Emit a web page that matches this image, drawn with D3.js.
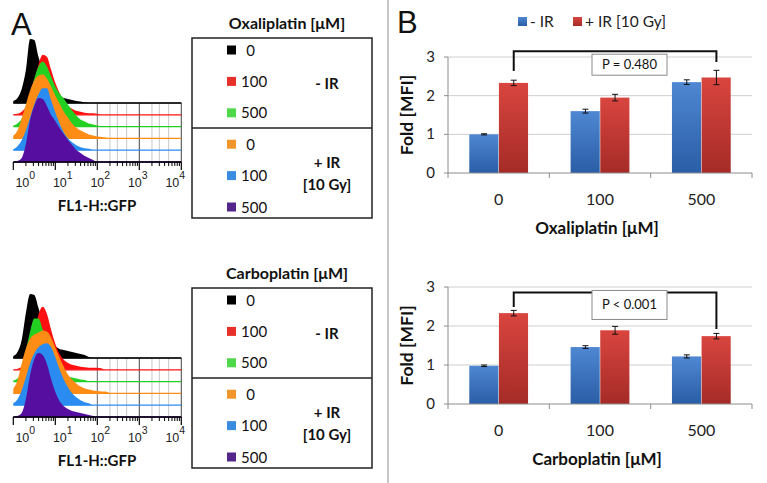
<!DOCTYPE html>
<html><head><meta charset="utf-8">
<script src="https://cdn.jsdelivr.net/npm/d3@7"></script>
<style>body{margin:0;background:#fff;} svg{display:block;}</style>
</head><body>
<svg id="chart" width="767" height="483"></svg>
<script>
// ---------- DATA ----------
// histogram sample positions (decades of FL1-H::GFP, log10)
const histLog = [0,0.1,0.2,0.3,0.4,0.5,0.6,0.7,0.8,0.9,1.0,1.1,1.2,1.3,1.4,1.5,1.6,1.7,1.8,1.9,2.0,2.1,2.2,2.3];
// Oxaliplatin overlays (relative event counts)
const oxaNoIR0   = [2,5,14,33,64,63,46,34,24,16,11,7,5,4,3,2,1.5,0.5,0,0,0,0,0,0];
const oxaNoIR100 = [0.5,1,3,8,18,33,50,60,58,45,32,22,14,9,6,4,3,2,1.5,1.5,1,0,0,0];
const oxaNoIR500 = [1,3,8,18,32,48,60,65,60,50,40,33,28,22,16,11,7,5,3,2,1,0,0,0];
const oxaIR0     = [3,8,20,34,48,58,63,64,60,52,43,35,27,21,15,11,8,6,4,3,2,1.5,1,0];
const oxaIR100   = [1,4,10,20,33,46,56,62,62,50,38,27,18,12,8,5,3,2,1.5,0,0,0,0,0];
const oxaIR500   = [0,1,4,18,42,56,64,63,56,47,41,34,28,22,17,12,9,6,4,2,0,0,0,0];
// Carboplatin overlays
const carNoIR0   = [2,6,18,45,64,63,50,36,25,17,12,9,8,7,6,5,4,3,1,0,0,0,0,0];
const carNoIR100 = [0,1,3,8,18,35,55,63,56,40,26,16,10,7,5,4,3,2.5,2,2,2,1.5,0,0];
const carNoIR500 = [1,3,10,30,50,63,63,52,40,28,18,12,8,5,4,3,2,1.5,0,0,0,0,0,0];
const carIR0     = [5,13,30,45,55,59,61,63,62,56,46,36,27,19,14,10,7,5,4,3,2.5,2,2,0];
const carIR100   = [2,6,15,28,42,52,58,61,62,58,48,36,26,18,12,8,5,3,2,0,0,0,0,0];
const carIR500   = [0,1,4,18,42,58,64,62,53,38,25,16,11,8,6,5,4,3,2,1,0,0,0,0];

const histColors = ["#000000","#ff1010","#22d022","#ff8c14","#2a8cf0","#560ea0"];
const legendColors = ["#000000","#e8302a","#4ed84a","#f0962a","#3a8ce0","#54268c"];
const legendDoses = ["0","100","500","0","100","500"];
const decadeTicks = [0,1,2,3,4];

// Panel B
const doses = ["0","100","500"];
const oxaMinusIR = [1.00, 1.60, 2.35];
const oxaMinusErr = [0.015, 0.05, 0.06];
const oxaPlusIR = [2.33, 1.95, 2.47];
const oxaPlusErr = [0.07, 0.085, 0.185];
const carMinusIR = [0.98, 1.46, 1.22];
const carMinusErr = [0.02, 0.035, 0.04];
const carPlusIR = [2.33, 1.89, 1.74];
const carPlusErr = [0.07, 0.10, 0.07];
const yTicks = [0,1,2,3];
const oxaBracket = [3.15, 2.64, 2.87];   // top, left leg end, right leg end
const carBracket = [2.86, 2.49, 1.92];

// ---------- DRAW ----------
const svg = d3.select("#chart");
const sans = "Lato, 'Open Sans', sans-serif";
const arial = "'Liberation Sans', Arial, sans-serif";

// separator
svg.append("line").attr("x1",388).attr("x2",388).attr("y1",0).attr("y2",483)
  .attr("stroke","#b4b4b4").attr("stroke-width",1.5);

// panel letters
svg.append("text").attr("x",11).attr("y",35).text("A")
  .attr("font-family",arial).attr("font-size",31).attr("fill","#111");
svg.append("text").attr("x",397).attr("y",33).text("B")
  .attr("font-family",arial).attr("font-size",31).attr("fill","#111");

// ---- histograms ----
const hx = d3.scaleLog().domain([1,1e4]).range([13.3,181.3]);
const hy = d3.scaleLinear().domain([0,65]).range([0,65]);
const labelX = d3.scaleLinear().domain([0,4]).range([hx(1)+12, hx(1e4)-6]);

function drawHist(top, sets){
  const g = svg.append("g");
  const step = 11.8, bottom = top + step*5;
  // grid 10^2..10^4
  const minor = [];
  for (let d=2; d<4; d++) [2,3,5].forEach(m=>minor.push(m*Math.pow(10,d)));
  g.selectAll(".mg").data(minor).enter().append("line")
    .attr("x1",d=>hx(d)).attr("x2",d=>hx(d)).attr("y1",top).attr("y2",bottom)
    .attr("stroke","#c8c8c8").attr("stroke-width",1);
  g.selectAll(".Mg").data([100,1000,10000]).enter().append("line")
    .attr("x1",d=>hx(d)).attr("x2",d=>hx(d)).attr("y1",top).attr("y2",bottom)
    .attr("stroke",(d,i)=>i==0?"#666":"#444").attr("stroke-width",1);
  g.append("line").attr("x1",hx(1)).attr("x2",hx(1e4)).attr("y1",top).attr("y2",top)
    .attr("stroke","#555").attr("stroke-width",1);
  sets.forEach((vals,i)=>{
    const base = top + i*step;
    const pts = histLog.map((l,j)=>[Math.pow(10,l), vals[j]]);
    const area = d3.area().x(d=>hx(d[0])).y0(base).y1(d=>base-hy(d[1])).curve(d3.curveMonotoneX);
    g.append("line").attr("x1",hx(1)).attr("x2",hx(1e4)).attr("y1",base).attr("y2",base)
      .attr("stroke",histColors[i]).attr("stroke-width",1.3);
    g.append("path").attr("d",area(pts)).attr("fill",histColors[i]);
  });
  // axis
  g.append("line").attr("x1",hx(1)).attr("x2",hx(1e4)).attr("y1",bottom).attr("y2",bottom)
    .attr("stroke","#000").attr("stroke-width",1.3);
  const mt = [];
  for (let d=0; d<4; d++) for (let m=2; m<10; m++) mt.push(m*Math.pow(10,d));
  g.selectAll(".mt").data(mt).enter().append("line")
    .attr("x1",d=>hx(d)).attr("x2",d=>hx(d)).attr("y1",bottom).attr("y2",bottom+4)
    .attr("stroke","#000").attr("stroke-width",1);
  g.selectAll(".Mt").data(decadeTicks).enter().append("line")
    .attr("x1",d=>hx(Math.pow(10,d))).attr("x2",d=>hx(Math.pow(10,d))).attr("y1",bottom).attr("y2",bottom+8)
    .attr("stroke","#000").attr("stroke-width",1.2);
  const lab = g.selectAll(".tl").data(decadeTicks).enter().append("text")
    .attr("x",d=>labelX(d)).attr("y",bottom+25).attr("text-anchor","middle")
    .attr("font-family",arial).attr("font-size",12.5).attr("fill","#222");
  lab.append("tspan").text("10");
  lab.append("tspan").attr("dy",-8).attr("font-size",10.5).text(d=>d);
  svg.append("text").attr("x",97).attr("y",bottom+49).attr("text-anchor","middle")
    .attr("font-family",sans).attr("font-weight","bold").attr("font-size",15).attr("fill","#111")
    .text("FL1-H::GFP");
}
drawHist(103,[oxaNoIR0,oxaNoIR100,oxaNoIR500,oxaIR0,oxaIR100,oxaIR500]);
drawHist(358,[carNoIR0,carNoIR100,carNoIR500,carIR0,carIR100,carIR500]);

// ---- legends A ----
function drawLegend(top, title){
  const g = svg.append("g");
  g.append("text").attr("x",287).attr("y",top-9).attr("text-anchor","middle")
    .attr("font-family",sans).attr("font-weight","bold").attr("font-size",16).attr("fill","#111").text(title);
  g.append("rect").attr("x",192).attr("y",top).attr("width",180).attr("height",180)
    .attr("fill","none").attr("stroke","#222").attr("stroke-width",1.5);
  g.append("line").attr("x1",192).attr("x2",372).attr("y1",top+90).attr("y2",top+90)
    .attr("stroke","#222").attr("stroke-width",1.5);
  const rowY = d3.scaleLinear().domain([0,5]).range([top+12,top+169]);
  legendDoses.forEach((d,i)=>{
    g.append("rect").attr("x",227).attr("y",rowY(i)-4.5).attr("width",9).attr("height",9)
      .attr("fill",legendColors[i]);
    g.append("text").attr("x",241+(3-d.length)*2.6).attr("y",rowY(i)+5.5)
      .attr("font-family",sans).attr("font-size",15).attr("fill","#111").text(d);
  });
  const tx = 327;
  g.append("text").attr("x",tx).attr("y",top+51).attr("text-anchor","middle")
    .attr("font-family",sans).attr("font-weight","bold").attr("font-size",15).attr("fill","#111").text("- IR");
  g.append("text").attr("x",tx).attr("y",top+130).attr("text-anchor","middle")
    .attr("font-family",sans).attr("font-weight","bold").attr("font-size",15).attr("fill","#111").text("+ IR");
  g.append("text").attr("x",tx).attr("y",top+152).attr("text-anchor","middle")
    .attr("font-family",sans).attr("font-weight","bold").attr("font-size",15).attr("fill","#111").text("[10 Gy]");
}
drawLegend(38,"Oxaliplatin [μM]");
drawLegend(288,"Carboplatin [μM]");

// ---- bar charts ----
const defs = svg.append("defs");
function grad(id, c1, c2){
  const lg = defs.append("linearGradient").attr("id",id).attr("x1",0).attr("x2",0).attr("y1",0).attr("y2",1);
  lg.append("stop").attr("offset","0%").attr("stop-color",c1);
  lg.append("stop").attr("offset","100%").attr("stop-color",c2);
}
grad("gBlue","#4f87d2","#2a5ea6");
grad("gRed","#d9453f","#a52b27");
const seriesFill = ["url(#gBlue)","url(#gRed)"];

const bx = d3.scaleBand().domain(doses).range([448,752]).padding(0);
const bw = bx.bandwidth();
const bs = d3.scaleBand().domain([0,1]).range([bw*0.21, bw*0.795]).padding(0);

function drawBars(cfg){
  const y = d3.scaleLinear().domain([0,3]).range([cfg.y0, cfg.y3]);
  const g = svg.append("g");
  // grid
  g.selectAll(".gr").data(yTicks.slice(1)).enter().append("line")
    .attr("x1",448).attr("x2",752).attr("y1",d=>y(d)).attr("y2",d=>y(d))
    .attr("stroke","#cfcfcf").attr("stroke-width",1);
  // y axis
  g.append("line").attr("x1",448).attr("x2",448).attr("y1",y(0)).attr("y2",y(3)).attr("stroke","#8c8c8c");
  g.selectAll(".yt").data(yTicks).enter().append("line")
    .attr("x1",444).attr("x2",448).attr("y1",d=>y(d)).attr("y2",d=>y(d)).attr("stroke","#8c8c8c");
  g.selectAll(".yl").data(yTicks).enter().append("text")
    .attr("x",435).attr("y",d=>y(d)+5).attr("text-anchor","end")
    .attr("font-family",sans).attr("font-size",15).attr("fill","#222").text(d=>d);
  // bars
  const series = [[cfg.minus,cfg.minusErr],[cfg.plus,cfg.plusErr]];
  series.forEach(([vals,errs],s)=>{
    doses.forEach((d,i)=>{
      const x0 = bx(d)+bs(s);
      g.append("rect").attr("x",x0).attr("y",y(vals[i])).attr("width",bs.bandwidth()-0.5)
        .attr("height",y(0)-y(vals[i])).attr("fill",seriesFill[s]);
      const cx = x0 + bs.bandwidth()/2;
      const e = g.append("g").attr("stroke","#111").attr("stroke-width",1);
      e.append("line").attr("x1",cx).attr("x2",cx).attr("y1",y(vals[i]+errs[i])).attr("y2",y(vals[i]-errs[i]));
      e.append("line").attr("x1",cx-3).attr("x2",cx+3).attr("y1",y(vals[i]+errs[i])).attr("y2",y(vals[i]+errs[i]));
      e.append("line").attr("x1",cx-3).attr("x2",cx+3).attr("y1",y(vals[i]-errs[i])).attr("y2",y(vals[i]-errs[i]));
    });
  });
  // x axis
  g.append("line").attr("x1",448).attr("x2",752).attr("y1",y(0)).attr("y2",y(0)).attr("stroke","#8c8c8c");
  const bounds = doses.map(d=>bx(d)).concat([bx(doses[2])+bw]);
  g.selectAll(".xt").data(bounds).enter().append("line")
    .attr("x1",d=>d).attr("x2",d=>d).attr("y1",y(0)).attr("y2",y(0)+5).attr("stroke","#8c8c8c");
  g.selectAll(".xl").data(doses).enter().append("text")
    .attr("x",d=>bx(d)+bw/2).attr("y",y(0)+32).attr("text-anchor","middle")
    .attr("font-family",sans).attr("font-size",16).attr("fill","#222").text(d=>d);
  g.append("text").attr("x",597).attr("y",y(0)+61).attr("text-anchor","middle")
    .attr("font-family",sans).attr("font-weight","bold").attr("font-size",17).attr("fill","#111").text(cfg.title);
  g.append("text").attr("transform",`translate(413,${(y(0)+y(3))/2}) rotate(-90)`).attr("text-anchor","middle")
    .attr("font-family",sans).attr("font-weight","bold").attr("font-size",17.5).attr("fill","#111").text("Fold [MFI]");
  // bracket
  const lx = bx(doses[0])+bs(1)+bs.bandwidth()/2, rx = bx(doses[2])+bs(1)+bs.bandwidth()/2;
  const br = cfg.bracket;
  g.append("path").attr("d",`M${lx},${y(br[1])}V${y(br[0])}H${rx}V${y(br[2])}`)
    .attr("fill","none").attr("stroke","#111").attr("stroke-width",2);
  g.append("rect").attr("x",592).attr("y",y(br[0])+cfg.boxDy).attr("width",75).attr("height",cfg.boxH)
    .attr("fill","#fff").attr("stroke","#8a8a8a").attr("stroke-width",1);
  g.append("text").attr("x",629.5).attr("y",y(br[0])+cfg.boxDy+cfg.boxH/2+4.5).attr("text-anchor","middle")
    .attr("font-family",sans).attr("font-size",13).attr("fill","#111").text(cfg.p);
}
drawBars({y0:173,y3:57,minus:oxaMinusIR,minusErr:oxaMinusErr,plus:oxaPlusIR,plusErr:oxaPlusErr,
  bracket:oxaBracket,p:"P = 0.480",title:"Oxaliplatin [μM]",boxDy:3,boxH:21});
drawBars({y0:404,y3:287,minus:carMinusIR,minusErr:carMinusErr,plus:carPlusIR,plusErr:carPlusErr,
  bracket:carBracket,p:"P < 0.001",title:"Carboplatin [μM]",boxDy:-2,boxH:29});

// legend B
const lgB = svg.append("g");
[["- IR",518,530],["+ IR [10 Gy]",573,585]].forEach(([t,sx,tx],i)=>{
  lgB.append("rect").attr("x",sx).attr("y",17).attr("width",9).attr("height",9).attr("fill",seriesFill[i]);
  lgB.append("text").attr("x",tx).attr("y",27).attr("font-family",sans).attr("font-size",15.5)
    .attr("fill","#222").text(t);
});
</script>
</body></html>
